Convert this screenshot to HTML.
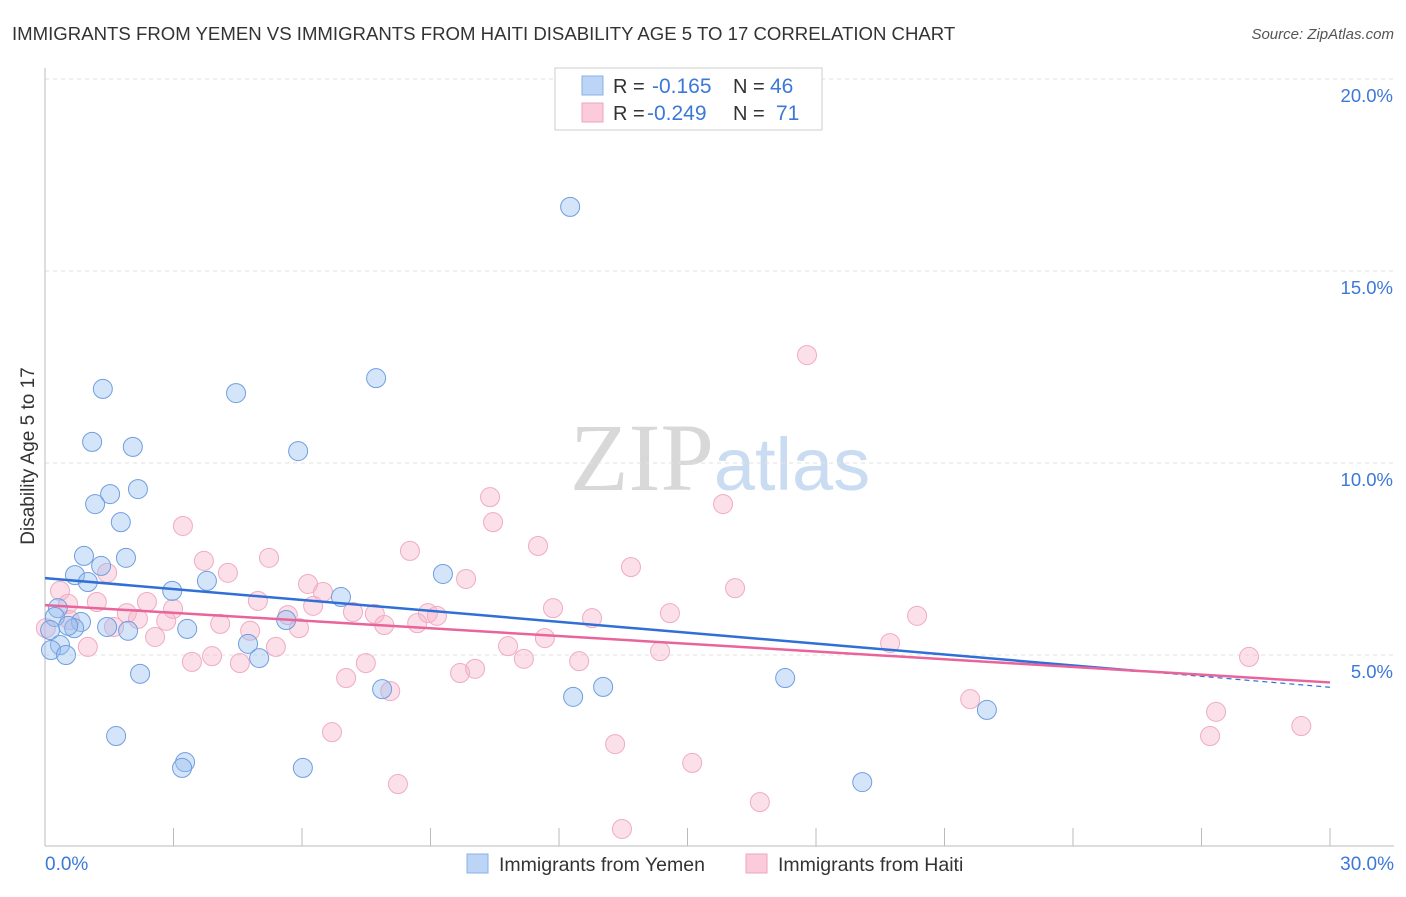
<!DOCTYPE html>
<html><head><meta charset="utf-8">
<style>
body{margin:0;background:#fff;font-family:"Liberation Sans",sans-serif;}
svg text{font-family:"Liberation Sans",sans-serif;}
</style></head>
<body>
<svg id="chart" width="1406" height="892">
<text x="12" y="40" font-size="18.6" fill="#333">IMMIGRANTS FROM YEMEN VS IMMIGRANTS FROM HAITI DISABILITY AGE 5 TO 17 CORRELATION CHART</text>
<text x="1394" y="39" font-size="15" fill="#555" font-style="italic" text-anchor="end">Source: ZipAtlas.com</text>
<text x="34" y="456" font-size="19" fill="#333" text-anchor="middle" transform="rotate(-90 34 456)">Disability Age 5 to 17</text>
<text x="720" y="490" font-size="96" fill="#ddd" text-anchor="middle" font-family="Liberation Serif"><tspan fill="#d8d8d8" font-family="Liberation Serif">ZIP</tspan><tspan fill="#c9dcf2" font-family="Liberation Sans" font-size="74">atlas</tspan></text>
<g id="grid"></g>
<g id="axes"></g>
<g id="pts"></g>
<g id="lines"></g>
<g>
<rect x="555" y="68" width="267" height="62" fill="#fff" stroke="#ccc"/>
<rect x="582" y="76" width="21" height="19" fill="#bcd4f5" stroke="#8ab0e8"/>
<rect x="582" y="103" width="21" height="19" fill="#fbcadb" stroke="#eea5bd"/>
<text x="613" y="93" font-size="20" fill="#333">R = </text><text x="652" y="93" font-size="21" fill="#3b78d8">-0.165</text>
<text x="733" y="93" font-size="20" fill="#333">N = </text><text x="770" y="93" font-size="21" fill="#3b78d8">46</text>
<text x="613" y="120" font-size="20" fill="#333">R = </text><text x="647" y="120" font-size="21" fill="#3b78d8">-0.249</text>
<text x="733" y="120" font-size="20" fill="#333">N = </text><text x="776" y="120" font-size="21" fill="#3b78d8">71</text>
</g>
<g>
<rect x="467" y="854" width="21" height="19" fill="#bcd4f5" stroke="#8ab0e8"/>
<text x="499" y="871" font-size="19.5" fill="#333">Immigrants from Yemen</text>
<rect x="746" y="854" width="21" height="19" fill="#fbcadb" stroke="#eea5bd"/>
<text x="778" y="871" font-size="19.5" fill="#333">Immigrants from Haiti</text>
</g>
</svg>
<script>
const yTicks=[5,10,15,20];
const yTickLabels=["5.0%","10.0%","15.0%","20.0%"];
const xTickLabels=["0.0%","30.0%"];
const yemenX=[12.26,7.73,1.35,4.46,1.10,2.05,5.91,2.17,1.52,1.17,1.77,0.91,1.89,1.31,0.70,9.29,1.00,3.78,2.97,6.91,0.30,0.23,5.63,0.84,1.45,0.68,1.94,3.32,0.54,0.12,4.74,0.35,0.14,0.49,5.00,2.22,7.87,13.03,12.33,17.28,21.99,1.66,3.27,3.20,6.02,19.08];
const yemenY=[16.67,12.21,11.93,11.82,10.55,10.42,10.31,9.32,9.19,8.93,8.46,7.58,7.53,7.32,7.08,7.11,6.90,6.93,6.67,6.51,6.22,5.99,5.91,5.86,5.73,5.70,5.63,5.68,5.76,5.65,5.29,5.26,5.13,5.00,4.92,4.51,4.11,4.17,3.91,4.40,3.57,2.89,2.21,2.06,2.06,1.69];
const haitiX=[17.79,10.39,15.83,10.46,3.22,11.51,8.52,5.23,3.71,13.68,4.27,1.45,9.83,6.14,16.11,6.49,0.35,1.21,2.38,4.97,0.54,6.26,11.86,2.99,1.91,14.59,20.36,5.67,7.70,8.94,9.15,7.19,12.77,2.83,2.17,4.09,7.92,8.69,1.61,5.93,4.79,0.02,2.57,11.67,1.00,5.39,10.81,19.73,3.90,14.36,11.18,3.43,12.47,28.11,4.55,7.49,10.04,9.69,7.03,8.06,21.60,27.34,29.33,6.70,27.20,13.31,15.11,8.24,16.69,13.47,0.58];
const haitiY=[12.81,9.11,8.93,8.46,8.36,7.84,7.71,7.53,7.45,7.29,7.14,7.14,6.98,6.85,6.74,6.64,6.67,6.38,6.38,6.41,6.33,6.28,6.22,6.20,6.09,6.09,6.02,6.04,6.07,6.09,6.02,6.12,5.96,5.89,5.94,5.81,5.78,5.83,5.73,5.70,5.63,5.70,5.47,5.44,5.21,5.21,5.23,5.31,4.97,5.10,4.90,4.82,4.84,4.95,4.79,4.79,4.64,4.53,4.40,4.06,3.85,3.52,3.15,2.99,2.89,2.68,2.19,1.64,1.17,0.47,5.91];

const NS="http://www.w3.org/2000/svg";
const X0=45,X1=1330,Y0=847,PY=38.4;
const sx=v=>X0+(X1-X0)*v/30;
const sy=v=>Y0-PY*v;
function mk(tag,attrs,parent){const e=document.createElementNS(NS,tag);for(const k in attrs)e.setAttribute(k,attrs[k]);document.getElementById(parent).appendChild(e);return e;}

yTicks.forEach((t,i)=>{
  const g=mk('line',{x1:X0,x2:1394,y1:sy(t),y2:sy(t),stroke:'#e2e2e2','stroke-width':1,'stroke-dasharray':'4,4'},'grid');
  
  
  const l=mk('text',{x:1393,y:sy(t)+23,'font-size':18.5,fill:'#3b78d8','text-anchor':'end'},'axes');
  l.textContent=yTickLabels[i];
  
  
});
mk('line',{x1:X0,x2:1394,y1:79,y2:79,stroke:'#e2e2e2','stroke-dasharray':'4,4'},'grid');
mk('line',{x1:X0,x2:X0,y1:68,y2:846,stroke:'#bbb'},'axes');
mk('line',{x1:X0,x2:1394,y1:846,y2:846,stroke:'#bbb'},'axes');
for(let i=0;i<=10;i++){mk('line',{x1:sx(i*3),x2:sx(i*3),y1:828,y2:846,stroke:'#bbb'},'axes');}
[[0,X0,'start'],[30,1394,'end']].forEach((d,i)=>{
  const l=mk('text',{x:d[1],y:870,'font-size':19,fill:'#3b78d8','text-anchor':d[2]},'axes');
  l.textContent=xTickLabels[i];
  
  
});

function pts(xs,ys,fill,stroke,name){
  xs.forEach((x,i)=>{
    const c=mk('circle',{cx:sx(x),cy:sy(ys[i]),r:9.5,fill:fill,stroke:stroke,'stroke-width':1},'pts');
    
    
  });
}
pts(haitiX,haitiY,'rgba(248,178,200,0.4)','#efabc2','haiti-point');
pts(yemenX,yemenY,'rgba(150,190,240,0.4)','#6f9ee0','yemen-point');

function fit(xs,ys){const n=xs.length;let mx=0,my=0;for(let i=0;i<n;i++){mx+=xs[i];my+=ys[i];}mx/=n;my/=n;let sxy=0,sxx=0;for(let i=0;i<n;i++){sxy+=(xs[i]-mx)*(ys[i]-my);sxx+=(xs[i]-mx)**2;}const b=sxy/sxx;return [my-b*mx,b];}
const fy=fit(yemenX,yemenY),fh=fit(haitiX,haitiY);
const xEnd=Math.max(...yemenX)+3.5;
let l1=mk('line',{x1:sx(0),y1:sy(fy[0]),x2:sx(xEnd),y2:sy(fy[0]+fy[1]*xEnd),stroke:'#2f6fd6','stroke-width':2.5},'lines');


let l1d=mk('line',{x1:sx(xEnd),y1:sy(fy[0]+fy[1]*xEnd),x2:sx(30),y2:sy(fy[0]+fy[1]*30),stroke:'#2f6fd6','stroke-width':1.2,'stroke-dasharray':'5,4'},'lines');


let l2=mk('line',{x1:sx(0),y1:sy(fh[0]),x2:sx(30),y2:sy(fh[0]+fh[1]*30),stroke:'#e8649a','stroke-width':2.5},'lines');


</script>
</body></html>
